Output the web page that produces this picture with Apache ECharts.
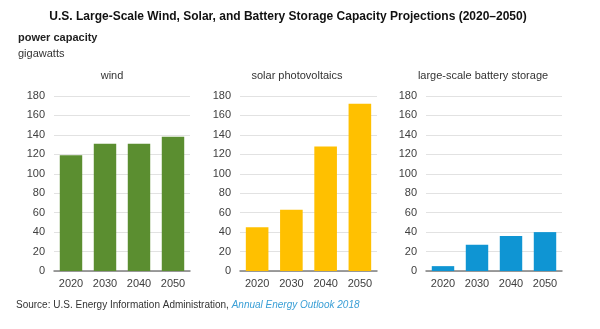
<!DOCTYPE html>
<html><head><meta charset="utf-8">
<script src="https://cdn.jsdelivr.net/npm/echarts@6/dist/echarts.min.js"></script>
<style>html,body{margin:0;padding:0;background:#fff}#c{width:600px;height:329px}</style>
</head><body><div id="c"></div>
<script>
const years = ['2020', '2030', '2040', '2050'];
const panelTitles = ['wind', 'solar photovoltaics', 'large-scale battery storage'];
const windValues = [119, 131, 131, 138];
const solarValues = [45, 63, 128, 172];
const batteryValues = [5, 27, 36, 40];
const yTicks = [0, 20, 40, 60, 80, 100, 120, 140, 160, 180];
const colors = ['#5b8e30', '#ffc000', '#0f95d3'];

const seriesValues = [windValues, solarValues, batteryValues];
const grids = [
  {left: 54, width: 136, top: 96, height: 175},
  {left: 240, width: 137, top: 96, height: 175},
  {left: 426, width: 136, top: 96, height: 175}
];
const titleCenters = [112, 297, 483];
const FONT = 'Liberation Sans, Arial';

const chart = echarts.init(document.getElementById('c'), null, {renderer: 'canvas'});
const opt = {
  animation: false,
  grid: grids,
  xAxis: grids.map((g, i) => ({
    type: 'category', gridIndex: i, data: years,
    axisTick: {show: false},
    axisLine: {lineStyle: {color: '#7f7f7f', width: 1.5}},
    axisLabel: {color: '#404040', fontFamily: FONT, fontSize: 11, margin: 7}
  })),
  yAxis: grids.map((g, i) => ({
    type: 'value', gridIndex: i, min: yTicks[0], max: yTicks[yTicks.length - 1], interval: yTicks[1] - yTicks[0],
    axisLine: {show: false}, axisTick: {show: false},
    splitLine: {lineStyle: {color: '#e2e2e2', width: 1}},
    axisLabel: {color: '#404040', fontFamily: FONT, fontSize: 11, margin: 9}
  })),
  series: seriesValues.map((vals, i) => ({
    type: 'bar', xAxisIndex: i, yAxisIndex: i, data: vals,
    barWidth: '66%', itemStyle: {color: colors[i]}
  })),
  title: [
    {text: 'U.S. Large-Scale Wind, Solar, and Battery Storage Capacity Projections (2020–2050)',
     left: 288, top: 11, textAlign: 'center', padding: 0,
     textStyle: {fontFamily: FONT, fontWeight: 'bold', fontSize: 12, color: '#111'}},
    {text: 'Source: U.S. Energy Information Administration, {i|Annual Energy Outlook 2018}',
     left: 16, top: 300, padding: 0,
     textStyle: {fontFamily: FONT, fontWeight: 'normal', fontSize: 10, color: '#333',
       rich: {i: {fontFamily: FONT, fontSize: 10, fontWeight: 'normal', fontStyle: 'italic', color: '#3a9fd6'}}}},
    {text: 'power capacity', left: 18, top: 32, padding: 0,
     textStyle: {fontFamily: FONT, fontWeight: 'bold', fontSize: 11, color: '#222'}},
    {text: 'gigawatts', left: 18, top: 48, padding: 0,
     textStyle: {fontFamily: FONT, fontWeight: 'normal', fontSize: 11, color: '#333'}}
  ].concat(panelTitles.map((t, i) => ({
    text: t, left: titleCenters[i], top: 70, textAlign: 'center', padding: 0,
    textStyle: {fontFamily: FONT, fontWeight: 'normal', fontSize: 11, color: '#333'}
  })))
};
chart.setOption(opt);
</script></body></html>
